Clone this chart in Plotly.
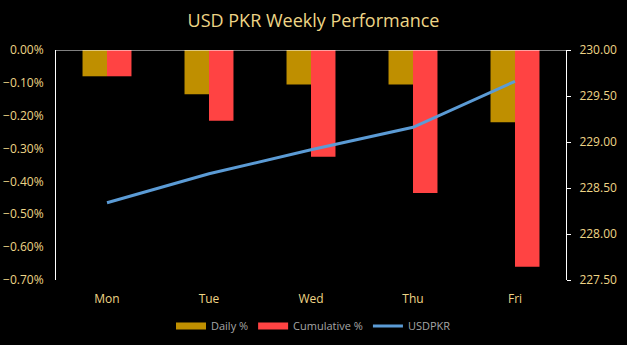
import plotly.graph_objects as go

days = ["Mon", "Tue", "Wed", "Thu", "Fri"]
daily_pct = [-0.08, -0.135, -0.105, -0.105, -0.22]
cumulative_pct = [-0.08, -0.215, -0.325, -0.435, -0.66]
usdpkr = [228.34, 228.655, 228.915, 229.16, 229.66]

gold_txt = "#EED586"
font_family = "Open Sans, Noto Sans, sans-serif"
bar_colors = {"Daily %": "#BF8F00", "Cumulative %": "#FF4343"}

fig = go.Figure()
fig.add_trace(go.Bar(x=days, y=daily_pct, name="Daily %", showlegend=False,
                     marker=dict(color=bar_colors["Daily %"], line=dict(width=0))))
fig.add_trace(go.Bar(x=days, y=cumulative_pct, name="Cumulative %", showlegend=False,
                     marker=dict(color=bar_colors["Cumulative %"], line=dict(width=0))))
# wide flat swatches for the bar series in the legend
for name, col in bar_colors.items():
    fig.add_trace(go.Scatter(x=[None], y=[None], name=name, mode="lines",
                             line=dict(color=col, width=7)))
fig.add_trace(go.Scatter(x=days, y=usdpkr, name="USDPKR", yaxis="y2",
                         mode="lines", line=dict(color="#5B9BD5", width=3)))

fig.update_layout(
    width=627, height=345,
    paper_bgcolor="black", plot_bgcolor="black",
    margin=dict(l=56, r=61, t=50, b=65, autoexpand=False),
    barmode="group", bargap=0.52, bargroupgap=0,
    title=dict(text="USD PKR Weekly Performance", x=0.5, xanchor="center",
               y=0.94, yanchor="middle",
               font=dict(family=font_family, size=18, color=gold_txt)),
    font=dict(family=font_family, color=gold_txt, size=12),
    xaxis=dict(showgrid=False, showline=False, ticks="", ticklabelstandoff=10,
               tickfont=dict(size=12, color=gold_txt)),
    yaxis=dict(range=[-0.7, 0], dtick=0.1, tickformat=".2f", ticksuffix="%",
               showgrid=False, zeroline=False, showline=True,
               linecolor="white", linewidth=1, ticks="", ticklabelstandoff=9,
               tickfont=dict(size=12, color=gold_txt)),
    yaxis2=dict(range=[227.5, 230], dtick=0.5, tickformat=".2f",
                overlaying="y", side="right", showgrid=False, zeroline=False,
                showline=True, linecolor="white", linewidth=1,
                ticks="outside", ticklen=4, tickcolor="white", ticklabelstandoff=6,
                tickfont=dict(size=12, color=gold_txt)),
    legend=dict(orientation="h", x=0.5, xanchor="center", xref="container",
                y=0.055, yanchor="middle", yref="container",
                font=dict(size=11, color="#A6A6A6"),
                bgcolor="rgba(0,0,0,0)", traceorder="normal"),
    shapes=[dict(type="line", xref="paper", yref="y", x0=0, x1=1, y0=0, y1=0,
                 line=dict(color="white", width=1))],
)

fig.write_html("out.html")
